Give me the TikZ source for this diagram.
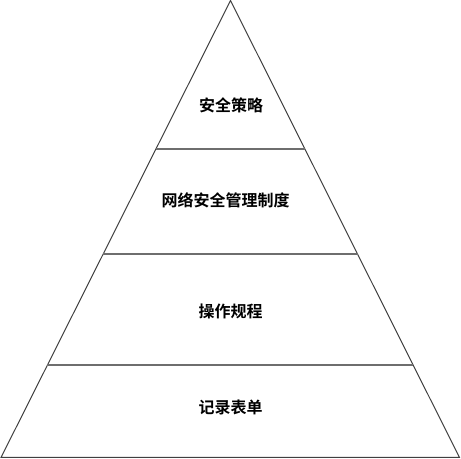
\documentclass[tikz,border=0pt]{standalone}
\usepackage{fontspec}
\usetikzlibrary{calc}
\newfontfamily\cjk{Noto Sans CJK SC}[BoldFont={Noto Sans CJK SC Bold}]
\tikzset{
  edge/.style={draw={rgb, 255:red, 64; green, 64; blue, 64}, line width=0.75pt},
  layer/.style={draw={rgb, 255:red, 110; green, 110; blue, 110}, line width=1pt},
  tier/.style={font=\cjk\bfseries\fontsize{12pt}{14pt}\selectfont, inner sep=0.75pt}
}
\begin{document}
\begin{tikzpicture}[x=0.75pt,y=0.75pt,yscale=-1,xscale=1]
\useasboundingbox (0,0) rectangle (461,459);

% corners of the pyramid
\coordinate (apex) at (230.5,0.5);
\coordinate (bl) at (1,457.5);
\coordinate (br) at (459.5,457.5);

%Pyramid outline
\draw [edge] (bl) -- (apex) -- (br) -- cycle ;

%Layer lines
\draw [layer] ($(bl)!0.6749!(apex)$) -- ($(br)!0.6749!(apex)$) ;
\draw [layer] ($(bl)!0.4453!(apex)$) -- ($(br)!0.4453!(apex)$) ;
\draw [layer] ($(bl)!0.2024!(apex)$) -- ($(br)!0.2024!(apex)$) ;

% Text Node
\node [tier] (policy) at (231,105.5) {安全策略};
% Text Node
\node [tier] (rules) at (225.5,200) {网络安全管理制度};
% Text Node
\node [tier] (procedure) at (230.5,311.5) {操作规程};
% Text Node
\node [tier] (records) at (230.5,407) {记录表单};

\end{tikzpicture}
\end{document}
